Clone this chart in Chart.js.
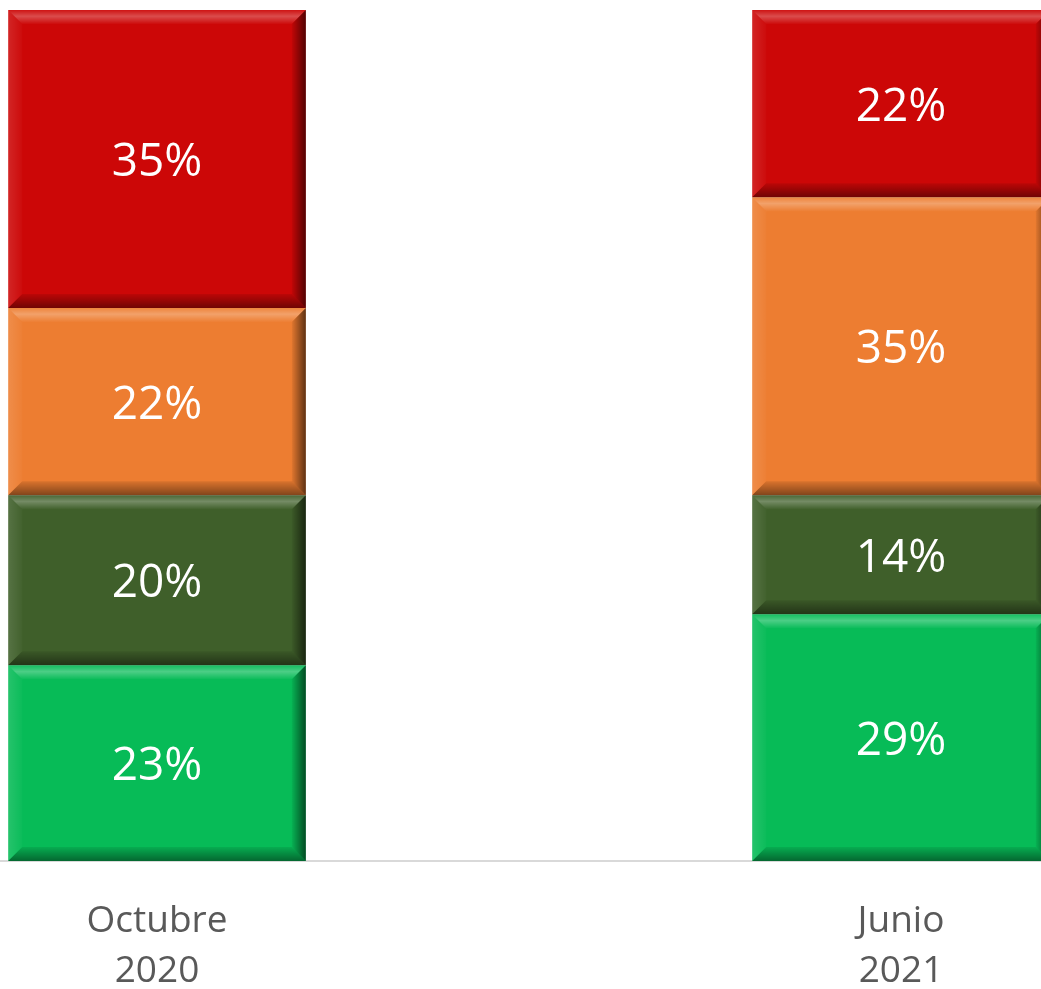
<!DOCTYPE html>
<html lang="es">
<head>
<meta charset="utf-8">
<title>Octubre 2020 vs Junio 2021</title>
<script src="https://cdn.jsdelivr.net/npm/chart.js@4/dist/chart.umd.min.js"></script>
<style>
  html, body { margin: 0; padding: 0; background: #fff; overflow: hidden; width: 1041px; height: 989px; }
  #wrap { position: absolute; left: -215px; top: 0; width: 1488px; height: 1031px; }
</style>
</head>
<body>
<div id="wrap"><canvas id="chart"></canvas></div>
<script>
const periodos = [['Octubre', '2020'], ['Junio', '2021']];
const verde = [23, 29];
const verdeOscuro = [20, 14];
const naranja = [22, 35];
const rojo = [35, 22];

const colores = ['#07BB57', '#3F5F2A', '#ED7D31', '#CC0707'];
const series = [verde, verdeOscuro, naranja, rojo];

// bisel estilo Excel sobre cada segmento
const bevelPlugin = {
  id: 'bevel',
  afterDatasetsDraw(chart) {
    const ctx = chart.ctx;
    const b = 14;
    chart.data.datasets.forEach((ds, i) => {
      chart.getDatasetMeta(i).data.forEach(bar => {
        const l = bar.x - bar.width / 2, r = bar.x + bar.width / 2;
        const t = Math.min(bar.y, bar.base), bt = Math.max(bar.y, bar.base);
        ctx.save();
        // arriba
        let g = ctx.createLinearGradient(0, t, 0, t + b);
        g.addColorStop(0, 'rgba(255,255,255,0.05)');
        g.addColorStop(0.45, 'rgba(255,255,255,0.28)');
        g.addColorStop(1, 'rgba(255,255,255,0.02)');
        ctx.fillStyle = g;
        ctx.beginPath();
        ctx.moveTo(l, t); ctx.lineTo(r, t); ctx.lineTo(r - b, t + b); ctx.lineTo(l + b, t + b); ctx.closePath();
        ctx.fill();
        // izquierda
        g = ctx.createLinearGradient(l, 0, l + b, 0);
        g.addColorStop(0, 'rgba(255,255,255,0.12)');
        g.addColorStop(1, 'rgba(255,255,255,0.02)');
        ctx.fillStyle = g;
        ctx.beginPath();
        ctx.moveTo(l, t); ctx.lineTo(l + b, t + b); ctx.lineTo(l + b, bt - b); ctx.lineTo(l, bt); ctx.closePath();
        ctx.fill();
        // derecha
        g = ctx.createLinearGradient(r - b, 0, r, 0);
        g.addColorStop(0, 'rgba(0,0,0,0.05)');
        g.addColorStop(1, 'rgba(0,0,0,0.6)');
        ctx.fillStyle = g;
        ctx.beginPath();
        ctx.moveTo(r, t); ctx.lineTo(r, bt); ctx.lineTo(r - b, bt - b); ctx.lineTo(r - b, t + b); ctx.closePath();
        ctx.fill();
        // abajo
        g = ctx.createLinearGradient(0, bt - b, 0, bt);
        g.addColorStop(0, 'rgba(0,0,0,0.08)');
        g.addColorStop(1, 'rgba(0,0,0,0.45)');
        ctx.fillStyle = g;
        ctx.beginPath();
        ctx.moveTo(l, bt); ctx.lineTo(r, bt); ctx.lineTo(r - b, bt - b); ctx.lineTo(l + b, bt - b); ctx.closePath();
        ctx.fill();
        ctx.restore();
      });
    });
  }
};

const labelPlugin = {
  id: 'valueLabels',
  afterDatasetsDraw(chart) {
    const ctx = chart.ctx;
    ctx.save();
    ctx.fillStyle = '#fff';
    ctx.font = '46px "Open Sans"';
    ctx.textAlign = 'center';
    ctx.textBaseline = 'middle';
    chart.data.datasets.forEach((ds, i) => {
      chart.getDatasetMeta(i).data.forEach((bar, j) => {
        ctx.fillText(ds.data[j] + '%', bar.x, (bar.y + bar.base) / 2 + 4);
      });
    });
    ctx.restore();
  }
};

new Chart(document.getElementById('chart'), {
  type: 'bar',
  data: {
    labels: periodos,
    datasets: series.map((d, i) => ({
      label: 'Serie ' + (i + 1),
      data: d,
      backgroundColor: colores[i],
      borderWidth: 0,
      barPercentage: 0.4,
      categoryPercentage: 1
    }))
  },
  options: {
    responsive: true,
    maintainAspectRatio: false,
    animation: false,
    layout: { padding: { top: 10, left: 0, right: 0, bottom: 0 } },
    plugins: { legend: { display: false }, tooltip: { enabled: false } },
    scales: {
      x: {
        stacked: true,
        grid: { display: false, drawTicks: false },
        border: { display: true, color: '#D9D9D9', width: 2 },
        ticks: { color: '#595959', font: { family: 'Open Sans', size: 37, lineHeight: 1.35 }, padding: 35, maxRotation: 0 }
      },
      y: { stacked: true, display: false, min: 0, max: 100 }
    }
  },
  plugins: [bevelPlugin, labelPlugin]
});
</script>
</body>
</html>
